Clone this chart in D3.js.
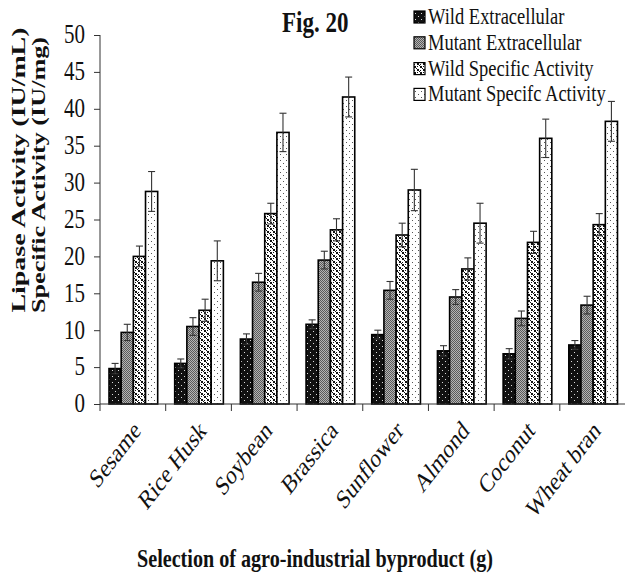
<!DOCTYPE html>
<html><head><meta charset="utf-8">
<script src="https://cdn.jsdelivr.net/npm/d3@7"></script>
<style>body{margin:0;background:#fff}svg{display:block}text{font-family:"Liberation Serif","Times New Roman",serif}</style>
</head><body>
<svg id="c" width="625" height="577"></svg>
<script>
const categories = ["Sesame","Rice Husk","Soybean","Brassica","Sunflower","Almond","Coconut","Wheat bran"];
const seriesNames = ["Wild Extracellular","Mutant Extracellular","Wild Specific Activity","Mutant Specifc Activity"];
const wildExtracellular   = [4.8, 5.5, 8.8, 10.8, 9.4, 7.2, 6.8, 8.0];
const mutantExtracellular = [9.7, 10.5, 16.5, 19.5, 15.4, 14.5, 11.6, 13.4];
const wildSpecific        = [20.0, 12.7, 25.8, 23.6, 22.9, 18.3, 21.9, 24.3];
const mutantSpecific      = [28.8, 19.4, 36.8, 41.6, 29.0, 24.5, 36.0, 38.3];
const errWildExtra   = [0.7, 0.6, 0.7, 0.6, 0.6, 0.7, 0.7, 0.6];
const errMutantExtra = [1.1, 1.2, 1.2, 1.2, 1.2, 1.0, 1.0, 1.2];
const errWildSpec    = [1.4, 1.5, 1.4, 1.5, 1.6, 1.5, 1.5, 1.5];
const errMutantSpec  = [2.7, 2.7, 2.6, 2.7, 2.8, 2.7, 2.6, 2.7];
const yTicks = [0,5,10,15,20,25,30,35,40,45,50];

const values = [wildExtracellular, mutantExtracellular, wildSpecific, mutantSpecific];
const errors = [errWildExtra, errMutantExtra, errWildSpec, errMutantSpec];

const svg = d3.select("#c");
const defs = svg.append("defs");

function pat(id, w, h, bg, rects, col){
  const p = defs.append("pattern").attr("id", id).attr("patternUnits","userSpaceOnUse").attr("width", w).attr("height", h);
  p.append("rect").attr("width", w).attr("height", h).attr("fill", bg);
  rects.forEach(r => p.append("rect").attr("x", r[0]).attr("y", r[1]).attr("width", r[2]).attr("height", r[3]).attr("fill", col));
}
pat("p0", 6, 6, "#111", [[1,1,1,1],[4,4,1,1]], "#ddd");
pat("p1", 2, 2, "#b4b4b4", [[0,0,1,1],[1,1,1,1]], "#5a5a5a");
pat("p2", 6, 6, "#fff", [[0,0,2,2],[3,0,1,1],[3,3,2,2],[0,4,1,1],[2,2,1,1],[5,5,1,1]], "#111");
pat("p3", 6, 6, "#fff", [[1,1,1,1],[4,4,1,1]], "#555");
const fills = ["url(#p0)","url(#p1)","url(#p2)","url(#p3)"];

const x0 = d3.scaleBand().domain(categories).range([100, 625.5]).padding(0);
const x1 = d3.scaleBand().domain(d3.range(4)).range([9, x0.bandwidth() - 8]).padding(0);
const y = d3.scaleLinear().domain([0, 50]).range([404, 35]);

const g = svg.append("g");
categories.forEach((c, ci) => {
  values.forEach((arr, si) => {
    const bx = x0(c) + x1(si);
    g.append("rect")
      .attr("x", bx).attr("y", y(arr[ci]))
      .attr("width", x1.bandwidth()).attr("height", y(0) - y(arr[ci]))
      .attr("fill", fills[si]).attr("stroke", "#000").attr("stroke-width", 1.6);
  });
});
categories.forEach((c, ci) => {
  values.forEach((arr, si) => {
    const cx = x0(c) + x1(si) + x1.bandwidth()/2;
    const v = arr[ci], e = errors[si][ci];
    const eg = g.append("g").attr("stroke", "#333").attr("stroke-width", 1.1);
    eg.append("line").attr("x1", cx).attr("x2", cx).attr("y1", y(v - e)).attr("y2", y(v + e));
    eg.append("line").attr("x1", cx - 3.5).attr("x2", cx + 3.5).attr("y1", y(v + e)).attr("y2", y(v + e));
    eg.append("line").attr("x1", cx - 3.5).attr("x2", cx + 3.5).attr("y1", y(v - e)).attr("y2", y(v - e));
  });
});

const yAxis = d3.axisLeft(y).tickValues(yTicks).tickSize(6).tickPadding(9);
const ya = svg.append("g").attr("transform", "translate(100,0)").call(yAxis);
ya.select(".domain").attr("stroke", "#333").attr("d", "M0,35V411");
ya.selectAll(".tick line").attr("stroke", "#333");
ya.selectAll(".tick text").attr("font-size", 21).attr("fill", "#111").attr("font-family", "Liberation Serif")
  .attr("dy", "0.3em").attr("transform", "scale(1,1.25)");

const boundaries = categories.map(c => x0(c)).concat([x0.range()[1]]);
const xa = svg.append("g");
xa.append("line").attr("x1", 100).attr("x2", 625).attr("y1", 404).attr("y2", 404).attr("stroke", "#333");
xa.selectAll("line.t").data(boundaries.slice(1)).join("line").attr("class","t")
  .attr("x1", d => d).attr("x2", d => d).attr("y1", 404).attr("y2", 411).attr("stroke", "#333");
xa.selectAll("text").data(categories).join("text")
  .attr("transform", d => `translate(${x0(d) + x0.bandwidth()/2 + 9},${432}) scale(1,1.3) rotate(-45)`)
  .attr("text-anchor", "end").attr("font-size", 20.5).attr("fill", "#111")
  .text(d => d);

svg.append("text").attr("transform", "translate(282,32) scale(1,1.25)").attr("font-size", 23).attr("font-weight", "bold").attr("fill", "#111").text("Fig. 20");
svg.append("text").attr("x", 315).attr("y", 567).attr("text-anchor", "middle")
  .attr("font-size", 25).attr("font-weight", "bold").attr("fill", "#111")
  .attr("textLength", 356).attr("lengthAdjust", "spacingAndGlyphs")
  .text("Selection of agro-industrial byproduct (g)");
svg.append("text").attr("transform", "translate(25,170) rotate(-90)").attr("text-anchor", "middle")
  .attr("font-size", 18.5).attr("font-weight", "bold").attr("fill", "#111")
  .attr("textLength", 285).attr("lengthAdjust", "spacingAndGlyphs")
  .text("Lipase Activity (IU/mL)");
svg.append("text").attr("transform", "translate(45,175) rotate(-90)").attr("text-anchor", "middle")
  .attr("font-size", 18.5).attr("font-weight", "bold").attr("fill", "#111")
  .attr("textLength", 276).attr("lengthAdjust", "spacingAndGlyphs")
  .text("Specific Activity (IU/mg)");

const lg = svg.append("g");
seriesNames.forEach((s, i) => {
  const base = 24 + i * 25.8;
  lg.append("rect").attr("x", 414).attr("y", base - 13).attr("width", 11).attr("height", 12)
    .attr("fill", fills[i]).attr("stroke", "#000").attr("stroke-width", 1.2);
  lg.append("text").attr("transform", `translate(428,${base}) scale(1,1.3)`).attr("font-size", 18.5).attr("fill", "#111").text(s);
});
</script>
</body></html>
